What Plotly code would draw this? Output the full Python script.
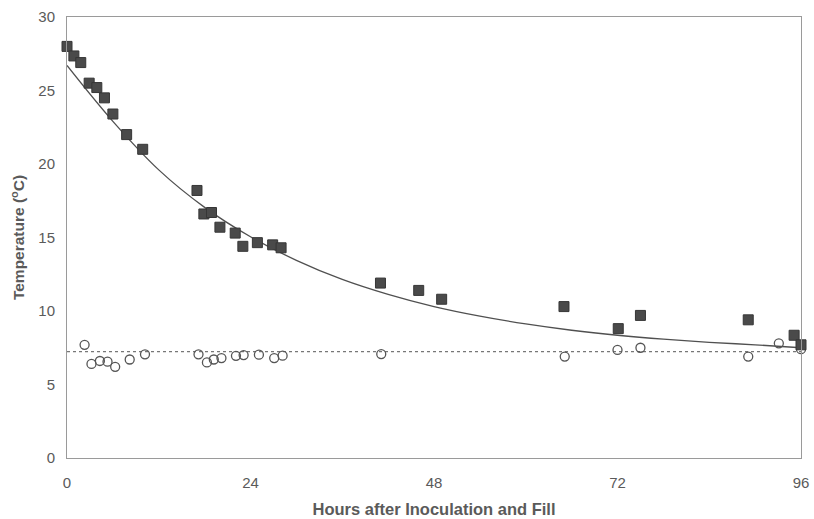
import plotly.graph_objects as go

# Inoculated (filled squares)
sq_hours = [0, 0.9, 1.8, 2.9, 3.9, 4.9, 6.0, 7.8, 9.9, 17.0, 17.9, 18.9, 20.0, 22.0, 23.0,
            24.9, 26.9, 28.0, 41.0, 46.0, 49.0, 65.0, 72.1, 75.0, 89.1, 95.1, 96.0]
sq_temp = [28.0, 27.35, 26.9, 25.5, 25.2, 24.5, 23.4, 22.0, 21.0, 18.2, 16.6, 16.7, 15.7, 15.3, 14.4,
           14.65, 14.5, 14.3, 11.9, 11.4, 10.8, 10.3, 8.8, 9.7, 9.4, 8.35, 7.7]

# Control (open circles)
ci_hours = [2.3, 3.2, 4.3, 5.3, 6.3, 8.2, 10.2, 17.2, 18.3, 19.2, 20.2, 22.1, 23.1, 25.1, 27.1,
            28.2, 41.1, 65.1, 72.0, 75.0, 89.1, 93.1, 96.0]
ci_temp = [7.7, 6.4, 6.6, 6.55, 6.2, 6.7, 7.05, 7.05, 6.5, 6.7, 6.8, 6.95, 7.0, 7.03, 6.8,
           6.96, 7.07, 6.9, 7.35, 7.5, 6.9, 7.8, 7.4]

# Fitted decay curve
fit_hours = [0, 6, 12, 18, 24, 30, 36, 42, 48, 54, 60, 66, 72, 78, 84, 90, 96]
fit_temp = [26.7, 22.9, 19.6, 17.05, 15.05, 13.45, 12.15, 11.13, 10.3, 9.65, 9.12, 8.69, 8.35,
            8.08, 7.87, 7.7, 7.5]

# Mean line of control
mean_hours = [0, 96]
mean_temp = [7.23, 7.23]

x_ticks = [0, 24, 48, 72, 96]
y_ticks = [0, 5, 10, 15, 20, 25, 30]

TXT = "#5a5a5a"

fig = go.Figure()
fig.add_trace(go.Scatter(x=mean_hours, y=mean_temp, mode="lines",
                         line=dict(color="#777777", width=1.2, dash="dot"),
                         showlegend=False, hoverinfo="skip"))
fig.add_trace(go.Scatter(x=fit_hours, y=fit_temp, mode="lines",
                         line=dict(color="#505050", width=1.3, shape="spline"),
                         showlegend=False, hoverinfo="skip"))
fig.add_trace(go.Scatter(x=ci_hours, y=ci_temp, mode="markers", cliponaxis=False,
                         marker=dict(symbol="circle-open", size=9, color="#555555",
                                     line=dict(width=1.3, color="#555555")),
                         showlegend=False))
fig.add_trace(go.Scatter(x=sq_hours, y=sq_temp, mode="markers", cliponaxis=False,
                         marker=dict(symbol="square", size=10, color="#4a4a4a",
                                     line=dict(width=1, color="#363636")),
                         showlegend=False))

fig.update_layout(
    width=814, height=519,
    margin=dict(l=67, r=13, t=17, b=61),
    paper_bgcolor="white", plot_bgcolor="white",
    font=dict(family="Liberation Sans, Arial, sans-serif", color=TXT, size=15),
)
fig.update_xaxes(
    range=[0, 96], tickvals=x_ticks, ticks="", ticklabelstandoff=11,
    showgrid=False, zeroline=False, automargin=False,
    showline=True, linecolor="#9a9a9a", linewidth=1, mirror=True,
    title=dict(text="<b>Hours after Inoculation and Fill</b>", font=dict(size=16.5, color=TXT),
               standoff=13),
)
fig.update_yaxes(
    range=[0, 30], tickvals=y_ticks, ticks="", ticklabelstandoff=8,
    showgrid=False, zeroline=False, automargin=False,
    showline=True, linecolor="#9a9a9a", linewidth=1, mirror=True,
    title=dict(text="<b>Temperature (<sup>o</sup>C)</b>", font=dict(size=15.5, color=TXT),
               standoff=9),
)

fig.write_html("out.html", config={"displayModeBar": False},
               post_script="document.body.style.margin='0';")
